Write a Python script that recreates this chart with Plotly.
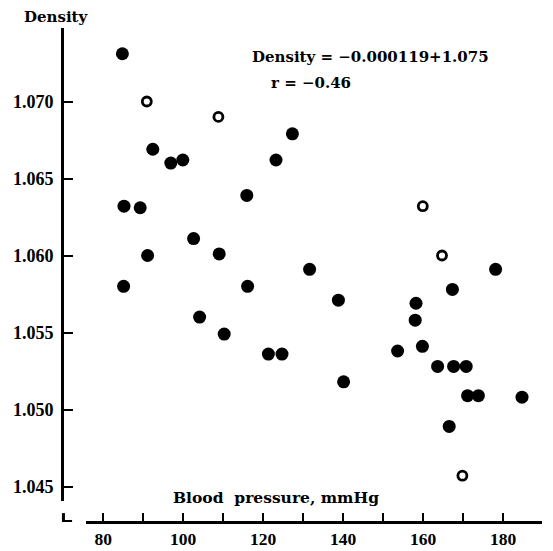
import plotly.graph_objects as go

# Data
bp_solid = [84.8, 92.4, 96.9, 99.9, 123.2, 127.3, 115.9, 85.2, 89.25, 102.6, 91.1, 109.0,
            131.6, 178.1, 85.1, 116.1, 104.1, 110.25, 121.3, 124.7, 167.3, 138.8, 158.2,
            158.0, 159.8, 153.6, 163.6, 167.6, 170.75, 140.1, 171.1, 173.8, 184.7, 166.5]
dens_solid = [1.0731, 1.0669, 1.0660, 1.0662, 1.0662, 1.0679, 1.0639, 1.0632, 1.0631, 1.0611,
              1.0600, 1.0601, 1.0591, 1.0591, 1.0580, 1.0580, 1.0560, 1.0549, 1.0536, 1.0536,
              1.0578, 1.0571, 1.0569, 1.0558, 1.0541, 1.0538, 1.0528, 1.0528, 1.0528, 1.0518,
              1.0509, 1.0509, 1.0508, 1.0489]
bp_open = [90.9, 108.8, 159.9, 164.7, 169.8]
dens_open = [1.0700, 1.0690, 1.0632, 1.0600, 1.0457]

x_tickvals = [80, 90, 100, 110, 120, 130, 140, 150, 160, 170, 180, 190]
x_ticktext = ["80", "", "100", "", "120", "", "140", "", "160", "", "180", ""]
y_tickvals = [1.045, 1.050, 1.055, 1.060, 1.065, 1.070]
y_ticktext = ["1.045", "1.050", "1.055", "1.060", "1.065", "1.070"]

NUMFONT = "Liberation Serif"
TXTFONT = "DejaVu Serif"

fig = go.Figure()
fig.add_trace(go.Scatter(x=bp_solid, y=dens_solid, mode="markers",
                         marker=dict(size=13, color="black"), showlegend=False,
                         cliponaxis=False))
fig.add_trace(go.Scatter(x=bp_open, y=dens_open, mode="markers",
                         marker=dict(size=9, color="white", line=dict(color="black", width=2.8)),
                         showlegend=False, cliponaxis=False))

# page body has an 8px margin, so the figure is 8px smaller and margins shifted
fig.update_layout(
    width=545, height=543,
    margin=dict(l=54, r=11, t=20, b=29, autoexpand=False),
    paper_bgcolor="white", plot_bgcolor="white",
    font=dict(family=NUMFONT, size=16, color="black"),
    xaxis=dict(domain=[0.05, 1], anchor="free", position=0, automargin=False,
               range=[75.7, 189.7], showgrid=False, zeroline=False,
               showline=True, linecolor="black", linewidth=3,
               ticks="inside", ticklen=8, tickwidth=2, tickcolor="black",
               tickvals=x_tickvals, ticktext=x_ticktext,
               tickfont=dict(family=NUMFONT, size=17.5, color="black", weight="bold"),
               ticklabelstandoff=0),
    yaxis=dict(domain=[0.0425, 1], anchor="free", position=0, automargin=False,
               range=[1.044058, 1.074773], showgrid=False, zeroline=False,
               showline=True, linecolor="black", linewidth=3,
               ticks="inside", ticklen=9, tickwidth=2, tickcolor="black",
               tickvals=y_tickvals, ticktext=y_ticktext,
               tickfont=dict(family=NUMFONT, size=18, color="black", weight="bold"),
               ticklabelstandoff=4),
)

TF = dict(family=TXTFONT, size=15, color="black")
fig.add_annotation(text="<b>Density</b>", xref="paper", yref="paper",
                   x=-0.0125, y=1.0223, xanchor="center", yanchor="middle",
                   showarrow=False, font=TF, borderpad=0)
fig.add_annotation(text="<b>Density = −0.000119+1.075</b>", xref="paper", yref="paper",
                   x=0.3917, y=0.9413, xanchor="left", yanchor="middle",
                   showarrow=False, font=TF)
fig.add_annotation(text="<b>r = −0.46</b>", xref="paper", yref="paper",
                   x=0.431, y=0.8887, xanchor="left", yanchor="middle",
                   showarrow=False, font=TF)
fig.add_annotation(text="<b>Blood  pressure, mmHg</b>", xref="paper", yref="paper",
                   x=0.446, y=0.0486, xanchor="center", yanchor="middle",
                   showarrow=False, font=dict(family=TXTFONT, size=15.5, color="black"))

# small broken-axis "L" mark at the bottom-left corner
fig.add_shape(type="line", xref="paper", yref="paper", x0=0.003, x1=0.003, y0=0, y1=0.018,
              line=dict(color="black", width=3))
fig.add_shape(type="line", xref="paper", yref="paper", x0=0.0, x1=0.021, y0=0.002, y1=0.002,
              line=dict(color="black", width=2))

fig.write_html("out.html")
